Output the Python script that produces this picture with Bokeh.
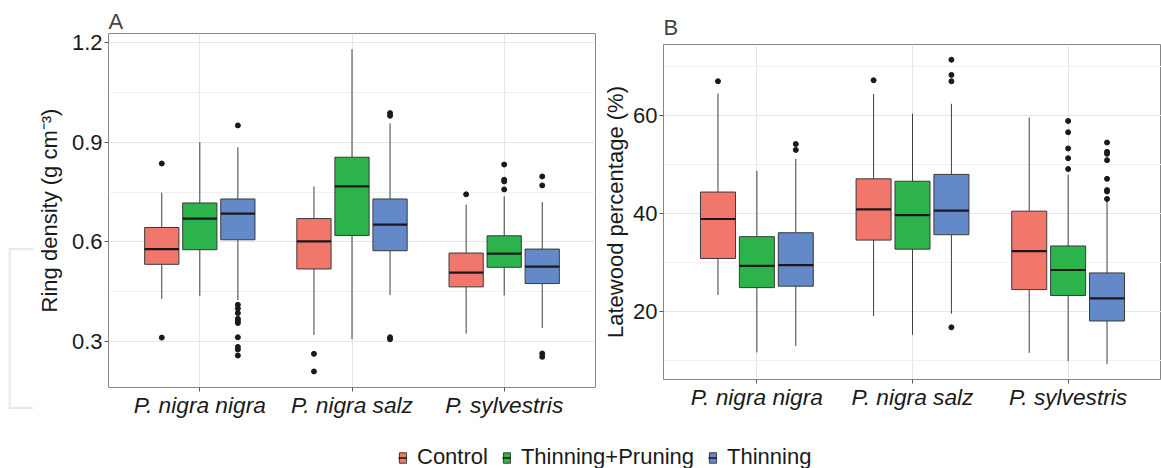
from bokeh.plotting import figure
from bokeh.models import Range1d, FactorRange, FixedTicker, ColumnDataSource, Legend, LegendItem
from bokeh.transform import dodge
from bokeh.layouts import row, column
from bokeh.embed import file_html
from bokeh.resources import INLINE

# ---------------- data ----------------
species = ["P. nigra nigra", "P. nigra salz", "P. sylvestris"]
treatments = ["Control", "Thinning+Pruning", "Thinning"]

# Panel A: ring density (g cm-3); lists follow the species order
dens_q1 = {"Control": [0.532, 0.518, 0.464], "Thinning+Pruning": [0.576, 0.619, 0.523], "Thinning": [0.606, 0.573, 0.474]}
dens_med = {"Control": [0.578, 0.601, 0.507], "Thinning+Pruning": [0.670, 0.767, 0.564], "Thinning": [0.685, 0.652, 0.525]}
dens_q3 = {"Control": [0.643, 0.670, 0.566], "Thinning+Pruning": [0.717, 0.855, 0.618], "Thinning": [0.729, 0.729, 0.578]}
dens_lo = {"Control": [0.428, 0.319, 0.323], "Thinning+Pruning": [0.437, 0.306, 0.438], "Thinning": [0.424, 0.439, 0.340]}
dens_hi = {"Control": [0.748, 0.767, 0.712], "Thinning+Pruning": [0.900, 1.181, 0.737], "Thinning": [0.885, 0.957, 0.720]}
dens_out_species = (["P. nigra nigra"] * 2 + ["P. nigra nigra"] * 11 + ["P. nigra salz"] * 2 + ["P. nigra salz"] * 4
                    + ["P. sylvestris"] * 1 + ["P. sylvestris"] * 4 + ["P. sylvestris"] * 4)
dens_out_treatment = (["Control"] * 2 + ["Thinning"] * 11 + ["Control"] * 2 + ["Thinning"] * 4
                      + ["Control"] * 1 + ["Thinning+Pruning"] * 4 + ["Thinning"] * 4)
dens_out_value = [0.836, 0.311,
                  0.951, 0.410, 0.399, 0.385, 0.368, 0.362, 0.355, 0.312, 0.283, 0.275, 0.257,
                  0.262, 0.209,
                  0.988, 0.980, 0.312, 0.306,
                  0.743,
                  0.833, 0.787, 0.782, 0.758,
                  0.797, 0.770, 0.263, 0.253]

# Panel B: latewood percentage (%)
late_q1 = {"Control": [30.75, 34.5, 24.4], "Thinning+Pruning": [24.8, 32.65, 23.2], "Thinning": [25.1, 35.6, 18.0]}
late_med = {"Control": [38.8, 40.75, 32.25], "Thinning+Pruning": [29.25, 39.6, 28.4], "Thinning": [29.4, 40.5, 22.6]}
late_q3 = {"Control": [44.3, 47.0, 40.4], "Thinning+Pruning": [35.2, 46.5, 33.3], "Thinning": [36.0, 47.9, 27.8]}
late_lo = {"Control": [23.3, 19.0, 11.5], "Thinning+Pruning": [11.6, 15.2, 9.8], "Thinning": [12.9, 19.5, 9.2]}
late_hi = {"Control": [64.4, 64.3, 59.5], "Thinning+Pruning": [48.6, 60.3, 47.8], "Thinning": [51.1, 62.3, 42.5]}
late_out_species = (["P. nigra nigra"] * 1 + ["P. nigra nigra"] * 2 + ["P. nigra salz"] * 1 + ["P. nigra salz"] * 4
                    + ["P. sylvestris"] * 5 + ["P. sylvestris"] * 8)
late_out_treatment = (["Control"] * 1 + ["Thinning"] * 2 + ["Control"] * 1 + ["Thinning"] * 4
                      + ["Thinning+Pruning"] * 5 + ["Thinning"] * 8)
late_out_value = [66.9,
                  54.1, 52.9,
                  67.1,
                  71.3, 68.2, 66.9, 16.7,
                  58.8, 56.5, 53.2, 51.2, 49.0,
                  54.4, 52.5, 52.1, 50.8, 47.0, 44.7, 44.4, 42.9]

dens_ticks = [0.3, 0.6, 0.9, 1.2]
dens_minor = [0.45, 0.75, 1.05]
dens_tick_labels = ["0.3", "0.6", "0.9", "1.2"]
late_ticks = [20, 40, 60]
late_minor = [10, 30, 50, 70]
late_tick_labels = ["20", "40", "60"]

# decorative light-grey bracket seen at the left edge of the picture
bracket_x = [1.0, 0.04, 0.04, 1.0]
bracket_y = [0.99, 0.99, 0.01, 0.01]

# ---------------- style ----------------
FONT = "Liberation Sans"
colors = {"Control": "#F1766B", "Thinning+Pruning": "#2DB34B", "Thinning": "#6489C8"}
offsets = {"Control": -0.25, "Thinning+Pruning": 0.0, "Thinning": 0.25}
BOX_W = 0.225


def no_align(f):
    try:
        f.frame_align = False
    except Exception:
        pass


def make_panel(title, ylabel, yr, ticks, minor, tick_labels, q1, med, q3, lo, hi,
               out_sp, out_tr, out_val, width, height, borders, label_standoff, title_standoff):
    p = figure(width=width, height=height,
               x_range=FactorRange(factors=species, range_padding=0.2 / 3),
               y_range=Range1d(*yr),
               output_backend="svg", toolbar_location=None,
               min_border_left=borders[0], min_border_right=borders[1],
               min_border_top=borders[2], min_border_bottom=borders[3])
    no_align(p)
    p.title.text = title
    p.title.text_font = FONT
    p.title.text_font_size = "22px"
    p.title.text_font_style = "normal"
    p.title.align = "left"
    p.title.standoff = title_standoff
    p.title.offset = 0

    p.background_fill_color = "white"
    p.border_fill_color = "white"
    p.outline_line_color = "#858585"
    p.outline_line_width = 1

    p.yaxis.ticker = FixedTicker(ticks=ticks, minor_ticks=minor)
    p.yaxis.major_label_overrides = {t: s for t, s in zip(ticks, tick_labels)}
    p.axis.major_label_text_font = FONT
    p.axis.major_label_text_font_size = "22px"
    p.axis.major_label_text_color = "#1a1a1a"
    p.axis.axis_line_color = None
    p.axis.major_tick_line_color = "#555555"
    p.axis.major_tick_in = 0
    p.axis.major_tick_out = 4
    p.axis.minor_tick_line_color = None
    p.xaxis.major_label_text_font_style = "italic"
    p.xaxis.major_label_text_font_size = "22.7px"
    p.xaxis.major_label_standoff = 0
    p.yaxis.major_label_standoff = 2
    p.yaxis.axis_label = ylabel
    p.yaxis.axis_label_text_font = FONT
    p.yaxis.axis_label_text_font_size = "22px"
    p.yaxis.axis_label_text_font_style = "normal"
    p.yaxis.axis_label_text_color = "#1a1a1a"
    p.yaxis.axis_label_standoff = label_standoff

    p.xgrid.grid_line_color = "#e6e6e6"
    p.ygrid.grid_line_color = "#e6e6e6"
    p.ygrid.minor_grid_line_color = "#f1f1f1"

    for t in treatments:
        off = offsets[t]
        src = ColumnDataSource(dict(species=species, q1=q1[t], med=med[t], q3=q3[t], lo=lo[t], hi=hi[t]))
        p.segment(x0=dodge("species", off, range=p.x_range), y0="q3",
                  x1=dodge("species", off, range=p.x_range), y1="hi",
                  source=src, line_color="#404040", line_width=1)
        p.segment(x0=dodge("species", off, range=p.x_range), y0="q1",
                  x1=dodge("species", off, range=p.x_range), y1="lo",
                  source=src, line_color="#404040", line_width=1)
        p.vbar(x=dodge("species", off, range=p.x_range), top="q3", bottom="q1", width=BOX_W,
               source=src, fill_color=colors[t], line_color="#3a3a3a", line_width=1)
        p.segment(x0=dodge("species", off - BOX_W / 2, range=p.x_range), y0="med",
                  x1=dodge("species", off + BOX_W / 2, range=p.x_range), y1="med",
                  source=src, line_color="#1a1a1a", line_width=2.2)
        osp = [s for s, tr in zip(out_sp, out_tr) if tr == t]
        ov = [v for v, tr in zip(out_val, out_tr) if tr == t]
        osrc = ColumnDataSource(dict(species=osp, y=ov))
        p.scatter(x=dodge("species", off, range=p.x_range), y="y", source=osrc,
                  size=5, color="#1a1a1a")
    return p


figA = make_panel("A", "Ring density (g cm\u207b\u00b3)", (0.1605, 1.2281), dens_ticks, dens_minor,
                  dens_tick_labels, dens_q1, dens_med, dens_q3, dens_lo, dens_hi,
                  dens_out_species, dens_out_treatment, dens_out_value,
                  width=567, height=420, borders=(73, 5, 33, 29), label_standoff=7, title_standoff=0)

figB = make_panel("B", "Latewood percentage (%)", (6.06, 74.4), late_ticks, late_minor,
                  late_tick_labels, late_q1, late_med, late_q3, late_lo, late_hi,
                  late_out_species, late_out_treatment, late_out_value,
                  width=561, height=420, borders=(61, 0, 44, 41), label_standoff=2, title_standoff=9)

# bracket decoration
br = figure(width=33, height=420, x_range=Range1d(0, 1), y_range=Range1d(0, 1),
            output_backend="svg", toolbar_location=None,
            min_border_left=8, min_border_right=0, min_border_top=247, min_border_bottom=11)
no_align(br)
br.axis.visible = False
br.grid.visible = False
br.outline_line_color = None
br.line(x=bracket_x, y=bracket_y, line_color="#e9e9e9", line_width=2.5)

# legend figure (dummy glyphs lie outside its visible range; only the legend keys show)
legend_dummy = dict(x=[5.0], top=[5.0], bottom=[4.0], y=[5.0])
leg = figure(width=1161, height=48, x_range=Range1d(0, 1), y_range=Range1d(0, 1),
             output_backend="svg", toolbar_location=None,
             min_border_left=0, min_border_right=0, min_border_top=0, min_border_bottom=0)
no_align(leg)
leg.axis.visible = False
leg.grid.visible = False
leg.outline_line_color = None
items = []
for t in treatments:
    dsrc = ColumnDataSource(legend_dummy)
    rb = leg.vbar(x="x", top="top", bottom="bottom", width=0.1, source=dsrc, fill_color=colors[t],
                  line_color="#3a3a3a", line_width=1)
    rm = leg.segment(x0="x", y0="y", x1="x", y1="y", source=dsrc, line_color="#1a1a1a", line_width=1.5)
    items.append(LegendItem(label=t, renderers=[rb, rm]))
legend = Legend(items=items, orientation="horizontal", location=(398, -2),
                glyph_width=9, glyph_height=13, label_standoff=10, spacing=14,
                padding=0, margin=0, border_line_color=None, background_fill_alpha=0,
                label_text_font=FONT, label_text_font_size="22px", label_text_color="#1a1a1a")
leg.add_layout(legend, "center")

layout = column(row(br, figA, figB), leg)

open("out.html", "w").write(file_html(layout, INLINE))
